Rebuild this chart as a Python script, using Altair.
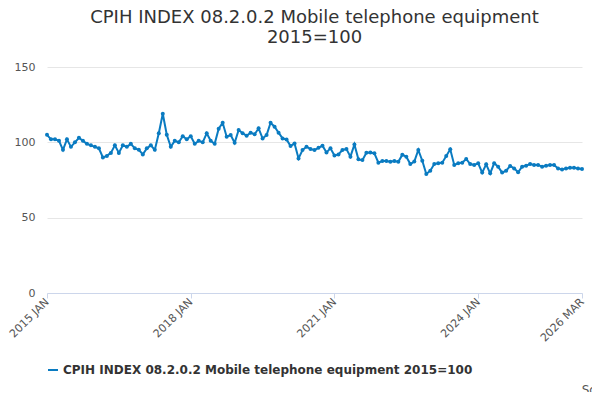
import pandas as pd
import altair as alt

series_name = "CPIH INDEX 08.2.0.2 Mobile telephone equipment 2015=100"
values = [
    105, 102, 102, 101, 95, 102, 97, 100, 103, 101, 99, 98,
    97, 96, 90, 91, 93, 98, 93, 98, 97, 99, 96, 95,
    92, 96, 98, 95, 106, 119, 105, 97, 101, 100, 104, 102,
    104, 99, 101, 100, 106, 101, 99, 109, 113, 103.7, 104.8, 99.7,
    108.2, 106, 104.4, 106.4, 105.3, 109.3, 102.6, 104.8, 113, 110.4, 106.4, 102.6,
    101.9, 97.5, 99.3, 89.3, 94.9, 97.1, 95.5, 94.9, 96.4, 97.8, 93.3, 96,
    91.2, 92, 94.9, 95.5, 90.5, 98.6, 88.7, 88.2, 93.1, 93.3, 92.7, 86.5,
    87.6, 87.6, 87.1, 87.6, 87.1, 91.8, 90.4, 85.6, 87.2, 94.9, 87.8, 79,
    81.2, 85.6, 86.1, 86.5, 91, 95.4, 85, 86.1, 86.5, 89, 85.6, 85,
    86.1, 79.9, 85.4, 79.4, 86.1, 83.8, 79.9, 81.2, 84.3, 82.7, 80.1, 83.8,
    84.5, 85.6, 85, 85, 83.8, 84.5, 85, 85, 82.7, 82, 82.7, 83.2,
    83.2, 82.7, 82.3,
]
tick_idx = [0, 36, 72, 108, 134]
tick_labels = ["2015 JAN", "2018 JAN", "2021 JAN", "2024 JAN", "2026 MAR"]

df = pd.DataFrame({"m": range(len(values)), "v": values, "s": series_name})

label_expr = " : ".join(
    f"datum.value == {i} ? '{t}'" for i, t in zip(tick_idx, tick_labels)
) + " : ''"

font = "DejaVu Sans"
line = alt.Chart(df).mark_line(
    point=alt.OverlayMarkDef(size=16, filled=True), strokeWidth=2
).encode(
    x=alt.X("m:Q", scale=alt.Scale(domain=[0, 134], nice=False),
            axis=alt.Axis(values=tick_idx, labelExpr=label_expr, labelAngle=-45,
                          labelAlign="right", labelBaseline="middle",
                          grid=False, title=None, labelFontSize=11, labelColor="#555",
                          domainColor="#ccd6eb", tickColor="#ccd6eb", labelFont=font,
                          labelFlush=False, labelOverlap=False)),
    y=alt.Y("v:Q", scale=alt.Scale(domain=[0, 150]),
            axis=alt.Axis(values=[0, 50, 100, 150], title=None, domain=False, ticks=False,
                          gridColor="#e6e6e6", labelColor="#555", labelFontSize=11,
                          labelPadding=12, labelFont=font)),
    color=alt.Color("s:N", scale=alt.Scale(range=["#0a7bc1"]),
                    legend=alt.Legend(orient="bottom", title=None, labelFontSize=12,
                                      labelFontWeight="bold", labelColor="#333",
                                      symbolType="stroke", symbolStrokeWidth=2,
                                      labelLimit=500, offset=20, labelFont=font)),
)

source = alt.Chart(pd.DataFrame({"t": ["Source:"]})).mark_text(
    align="right", fontSize=12, color="#555", font=font
).encode(x=alt.value(580), y=alt.value(97 + 226), text="t:N")

chart = (line + source).properties(
    width=535, height=226,
    autosize=alt.AutoSizeParams(type="none"),
    padding={"left": 39, "top": 59, "right": 10, "bottom": 99},
    title=alt.TitleParams(["CPIH INDEX 08.2.0.2 Mobile telephone equipment", "2015=100"],
                          fontSize=18, fontWeight="normal", color="#333", font=font,
                          anchor="middle", offset=14),
).configure_view(stroke=None)

chart.save("out.html", embed_options={"renderer": "svg", "actions": False})
